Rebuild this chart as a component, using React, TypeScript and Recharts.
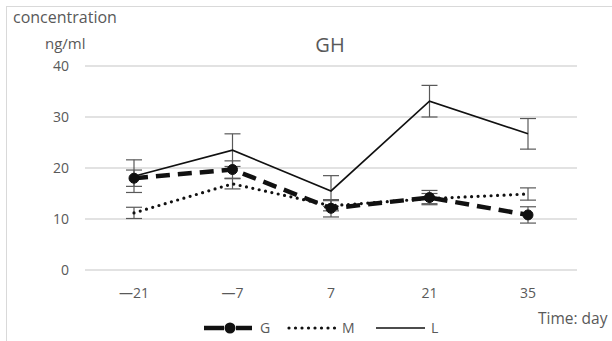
import React from "react"
import { LineChart, Line, XAxis, YAxis, CartesianGrid, ErrorBar } from "recharts"

const days = ["—21", "—7", "7", "21", "35"]
const gValues = [18.0, 19.7, 12.1, 14.2, 10.8]
const gErrors = [1.6, 1.7, 1.7, 1.4, 1.6]
const mValues = [11.2, 16.9, 12.6, 14.0, 14.9]
const mErrors = [1.1, 1.0, 1.0, 1.0, 1.2]
const lValues = [18.4, 23.5, 15.5, 33.1, 26.7]
const lErrors = [3.2, 3.2, 3.0, 3.1, 3.0]
const yTicks = [0, 10, 20, 30, 40]

const data = days.map((day, i) => ({
  day,
  g: gValues[i],
  gErr: gErrors[i],
  m: mValues[i],
  mErr: mErrors[i],
  l: lValues[i],
  lErr: lErrors[i],
}))

const font = "'Open Sans', 'Noto Sans', sans-serif"
const textColor = "#595959"

export default function App() {
  return (
    <div style={{ position: "fixed", left: 0, top: 0, width: 612, height: 341, overflow: "hidden", background: "#fff", fontFamily: font }}>
      <div style={{ position: "absolute", left: 6, top: 6, width: 700, height: 400, border: "1px solid #d9d9d9" }} />
      <div style={{ position: "absolute", left: 0, top: 0 }}>
        <LineChart width={612} height={341} data={data} margin={{ top: 66, right: 35, left: 25, bottom: 41 }}>
          <CartesianGrid vertical={false} stroke="#d9d9d9" strokeWidth={1.3} />
          <XAxis
            dataKey="day"
            axisLine={false}
            tickLine={false}
            height={30}
            padding={{ left: 49, right: 49 }}
            tick={{ fill: textColor, fontSize: 14, fontFamily: font }}
            tickMargin={12}
          />
          <YAxis
            domain={[0, 40]}
            ticks={yTicks}
            width={60}
            axisLine={false}
            tickLine={false}
            tick={{ fill: textColor, fontSize: 14, fontFamily: font }}
            tickMargin={10}
          />
          <Line
            dataKey="m"
            stroke="#111"
            strokeWidth={3.2}
            strokeDasharray="0 6.5"
            strokeLinecap="round"
            dot={false}
            isAnimationActive={false}
          >
            <ErrorBar dataKey="mErr" width={8} stroke={textColor} strokeWidth={1.2} direction="y" />
          </Line>
          <Line
            dataKey="l"
            stroke="#111"
            strokeWidth={1.6}
            dot={false}
            isAnimationActive={false}
          >
            <ErrorBar dataKey="lErr" width={8} stroke={textColor} strokeWidth={1.2} direction="y" />
          </Line>
          <Line
            dataKey="g"
            stroke="#111"
            strokeWidth={4.5}
            strokeDasharray="14 8"
            dot={{ r: 5, fill: "#111", stroke: "#111", strokeWidth: 1, strokeDasharray: "" }}
            isAnimationActive={false}
          >
            <ErrorBar dataKey="gErr" width={8} stroke={textColor} strokeWidth={1.2} direction="y" />
          </Line>
        </LineChart>
      </div>
      <svg width={612} height={341} style={{ position: "absolute", left: 0, top: 0, pointerEvents: "none" }}>
        <text x={330} y={52} textAnchor="middle" fontSize={20} fill={textColor} fontFamily={font}>GH</text>
        <text x={13} y={23} fontSize={16} fill={textColor} fontFamily={font}>concentration</text>
        <text x={45} y={49} fontSize={15} fill={textColor} fontFamily={font}>ng/ml</text>
        <text x={538} y={324} fontSize={15.5} fill={textColor} fontFamily={font}>Time: day</text>
        <line x1={204} y1={328} x2={224} y2={328} stroke="#111" strokeWidth={4.5} />
        <line x1={236} y1={328} x2={252} y2={328} stroke="#111" strokeWidth={4.5} />
        <circle cx={230} cy={328} r={5.5} fill="#111" />
        <text x={260} y={333} fontSize={14} fill={textColor} fontFamily={font}>G</text>
        <line x1={289} y1={328} x2={335} y2={328} stroke="#111" strokeWidth={3.2} strokeDasharray="0 6.5" strokeLinecap="round" />
        <text x={342} y={333} fontSize={14} fill={textColor} fontFamily={font}>M</text>
        <line x1={376} y1={328} x2={425} y2={328} stroke="#111" strokeWidth={1.6} />
        <text x={431} y={333} fontSize={14} fill={textColor} fontFamily={font}>L</text>
      </svg>
    </div>
  )
}
